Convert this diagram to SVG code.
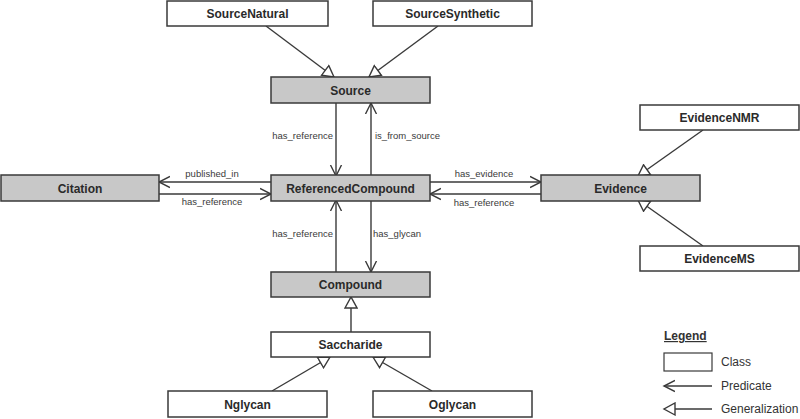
<svg xmlns="http://www.w3.org/2000/svg" width="800" height="419" viewBox="0 0 800 419">
<style>
.cls rect{fill:#fff;stroke:#3a3a3a;stroke-width:1.5}
.cls.gray rect{fill:#c8c8c8}
.cls text{font-family:"Liberation Sans",Arial,sans-serif;font-weight:bold;font-size:12px;fill:#2a2a2a;text-anchor:middle}
.edge{stroke:#3a3a3a;stroke-width:1.4;fill:none}
.pred{marker-end:url(#open)}
.gen{marker-end:url(#tri)}
.lbl{font-family:"Liberation Sans",Arial,sans-serif;font-size:9.5px;fill:#3a3a3a}
.leg{font-family:"Liberation Sans",Arial,sans-serif;font-size:12px;fill:#333}
</style>
<defs>
<marker id="open" markerUnits="userSpaceOnUse" markerWidth="14" markerHeight="14" refX="11" refY="6" orient="auto" viewBox="0 0 14 12">
<path d="M0,0.5 L11,6 L0,11.5" fill="none" stroke="#3a3a3a" stroke-width="1.4"/>
</marker>
<marker id="tri" markerUnits="userSpaceOnUse" markerWidth="14" markerHeight="14" refX="12" refY="6.5" orient="auto" viewBox="0 0 14 13">
<polygon points="1,0.5 12,6.5 1,12.5" fill="#fff" stroke="#3a3a3a" stroke-width="1.4"/>
</marker>
</defs>

<g id="connectors">
<line class="edge gen" x1="266" y1="26" x2="334" y2="77"/>
<line class="edge gen" x1="438" y1="26" x2="369" y2="77"/>
<line class="edge gen" x1="703" y1="130" x2="638" y2="176"/>
<line class="edge gen" x1="703" y1="246" x2="638" y2="200"/>
<line class="edge gen" x1="351" y1="332" x2="351" y2="297"/>
<line class="edge gen" x1="272" y1="391" x2="330" y2="357"/>
<line class="edge gen" x1="432" y1="391" x2="373" y2="357"/>

<line class="edge pred" x1="336" y1="103" x2="336" y2="176"/>
<line class="edge pred" x1="371" y1="176" x2="371" y2="103"/>
<line class="edge pred" x1="336" y1="272" x2="336" y2="200"/>
<line class="edge pred" x1="371" y1="200" x2="371" y2="272"/>
<line class="edge pred" x1="271" y1="182" x2="159" y2="182"/>
<line class="edge pred" x1="159" y1="194" x2="271" y2="194"/>
<line class="edge pred" x1="430" y1="182" x2="541" y2="182"/>
<line class="edge pred" x1="541" y1="194" x2="430" y2="194"/>

<text class="lbl" x="333" y="139" text-anchor="end">has_reference</text>
<text class="lbl" x="375" y="139">is_from_source</text>
<text class="lbl" x="333" y="237" text-anchor="end">has_reference</text>
<text class="lbl" x="373" y="237">has_glycan</text>
<text class="lbl" x="212" y="177" text-anchor="middle">published_in</text>
<text class="lbl" x="212" y="205" text-anchor="middle">has_reference</text>
<text class="lbl" x="484" y="177" text-anchor="middle">has_evidence</text>
<text class="lbl" x="484" y="206" text-anchor="middle">has_reference</text>
</g>

<g id="SourceNatural" class="cls"><rect x="167" y="1" width="161" height="25"/><text x="247.5" y="18">SourceNatural</text></g>
<g id="SourceSynthetic" class="cls"><rect x="373" y="1" width="159" height="25"/><text x="452.5" y="18">SourceSynthetic</text></g>
<g id="Source" class="cls gray"><rect x="271" y="77" width="159" height="26"/><text x="350.5" y="94.5">Source</text></g>
<g id="Citation" class="cls gray"><rect x="1" y="175" width="158" height="26"/><text x="80" y="192.5">Citation</text></g>
<g id="ReferencedCompound" class="cls gray"><rect x="271" y="175" width="159" height="26"/><text x="350.5" y="192.5">ReferencedCompound</text></g>
<g id="Evidence" class="cls gray"><rect x="541" y="175" width="159" height="26"/><text x="620.5" y="192.5">Evidence</text></g>
<g id="EvidenceNMR" class="cls"><rect x="640" y="105" width="159" height="25"/><text x="719.5" y="122">EvidenceNMR</text></g>
<g id="EvidenceMS" class="cls"><rect x="640" y="246" width="159" height="25"/><text x="719.5" y="263">EvidenceMS</text></g>
<g id="Compound" class="cls gray"><rect x="271" y="272" width="159" height="25"/><text x="350.5" y="289">Compound</text></g>
<g id="Saccharide" class="cls"><rect x="271" y="332" width="159" height="25"/><text x="350.5" y="349">Saccharide</text></g>
<g id="Nglycan" class="cls"><rect x="168" y="391" width="159" height="26"/><text x="247.5" y="408.5">Nglycan</text></g>
<g id="Oglycan" class="cls"><rect x="373" y="391" width="159" height="26"/><text x="452.5" y="408.5">Oglycan</text></g>

<g id="legend">
<text class="leg" x="664" y="340" font-weight="bold" text-decoration="underline">Legend</text>
<rect x="664" y="353" width="48" height="18" fill="#fff" stroke="#3a3a3a" stroke-width="1.2"/>
<text class="leg" x="721" y="366">Class</text>
<line class="edge pred" x1="712" y1="386" x2="664" y2="386"/>
<text class="leg" x="721" y="390">Predicate</text>
<line class="edge gen" x1="712" y1="409" x2="664" y2="409"/>
<text class="leg" x="721" y="413">Generalization</text>
</g>
</svg>
